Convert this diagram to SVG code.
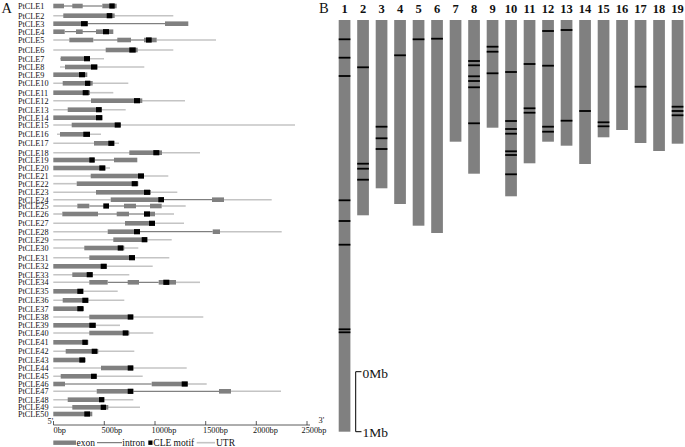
<svg xmlns="http://www.w3.org/2000/svg" width="685" height="447" viewBox="0 0 685 447">
<style>
text{font-family:"Liberation Serif","Times New Roman",serif;fill:#111}
.pl{font-size:14.5px}
.gl{font-size:8.2px}
.tk{font-size:8.3px}
.lg{font-size:9.5px}
.cn{font-size:12.5px;font-weight:bold;text-anchor:middle}
.sb{font-size:13.5px}
.u{stroke:#c4c4c4;stroke-width:1.6;fill:none}
.i{stroke:#505050;stroke-width:0.9;fill:none}
.e{fill:#808080}
.m{fill:#000}
.ch{fill:#808080}
.mk{fill:#000}
</style>
<text class="pl" x="1.5" y="13">A</text>
<text class="pl" x="319" y="13">B</text>
<g id="genes">
<g id="PtCLE1"><text class="gl" x="18" y="9">PtCLE1</text><line class="i" x1="64" y1="6" x2="102.3" y2="6"/><rect class="e" x="53.3" y="3.7" width="10.7" height="4.6"/><rect class="e" x="72.3" y="3.7" width="10.4" height="4.6"/><rect class="e" x="102.3" y="3.7" width="14.4" height="4.6"/><rect class="m" x="109.3" y="3.4" width="5.4" height="5.2"/></g>
<g id="PtCLE2"><text class="gl" x="18" y="18.7">PtCLE2</text><line class="u" x1="53.3" y1="15.7" x2="173.3" y2="15.7"/><rect class="e" x="63.3" y="13.4" width="51.4" height="4.6"/><rect class="m" x="106.7" y="13.1" width="5.6" height="5.2"/></g>
<g id="PtCLE3"><text class="gl" x="18" y="26.7">PtCLE3</text><line class="i" x1="87.7" y1="23.7" x2="165" y2="23.7"/><rect class="e" x="53.3" y="21.4" width="34.4" height="4.6"/><rect class="e" x="165" y="21.4" width="23.3" height="4.6"/><rect class="m" x="81" y="21.1" width="6.7" height="5.2"/></g>
<g id="PtCLE4"><text class="gl" x="18" y="34.7">PtCLE4</text><line class="i" x1="64.7" y1="31.7" x2="96" y2="31.7"/><rect class="e" x="53.3" y="29.4" width="11.4" height="4.6"/><rect class="e" x="76" y="29.4" width="6.7" height="4.6"/><rect class="e" x="96" y="29.4" width="17.3" height="4.6"/><rect class="m" x="103" y="29.1" width="6" height="5.2"/></g>
<g id="PtCLE5"><text class="gl" x="18" y="43">PtCLE5</text><line class="u" x1="53.3" y1="40" x2="69.3" y2="40"/><line class="u" x1="156.7" y1="40" x2="216" y2="40"/><line class="i" x1="93.3" y1="40" x2="144" y2="40"/><rect class="e" x="69.3" y="37.7" width="24" height="4.6"/><rect class="e" x="117.3" y="37.7" width="13.7" height="4.6"/><rect class="e" x="144" y="37.7" width="12.7" height="4.6"/><rect class="m" x="146" y="37.4" width="5.7" height="5.2"/></g>
<g id="PtCLE6"><text class="gl" x="18" y="53">PtCLE6</text><line class="u" x1="53.3" y1="50" x2="173.3" y2="50"/><rect class="e" x="105.7" y="47.7" width="32" height="4.6"/><rect class="m" x="129.3" y="47.4" width="6.4" height="5.2"/></g>
<g id="PtCLE7"><text class="gl" x="18" y="61.7">PtCLE7</text><line class="u" x1="60" y1="58.7" x2="104" y2="58.7"/><rect class="e" x="60.7" y="56.4" width="29.3" height="4.6"/><rect class="m" x="84" y="56.1" width="6" height="5.2"/></g>
<g id="PtCLE8"><text class="gl" x="18" y="70">PtCLE8</text><line class="u" x1="60" y1="67" x2="144.3" y2="67"/><rect class="e" x="65" y="64.7" width="32.3" height="4.6"/><rect class="m" x="91" y="64.4" width="6.3" height="5.2"/></g>
<g id="PtCLE9"><text class="gl" x="18" y="77.7">PtCLE9</text><rect class="e" x="53.3" y="72.4" width="34" height="4.6"/><rect class="m" x="79" y="72.1" width="6" height="5.2"/></g>
<g id="PtCLE10"><text class="gl" x="18" y="86.3">PtCLE10</text><line class="u" x1="53.3" y1="83.3" x2="128.3" y2="83.3"/><rect class="e" x="62.7" y="81" width="30" height="4.6"/><rect class="m" x="85" y="80.7" width="5.3" height="5.2"/></g>
<g id="PtCLE11"><text class="gl" x="18" y="95.7">PtCLE11</text><line class="u" x1="90" y1="92.7" x2="113.3" y2="92.7"/><rect class="e" x="53.3" y="90.4" width="36.7" height="4.6"/><rect class="m" x="82.7" y="90.1" width="6" height="5.2"/></g>
<g id="PtCLE12"><text class="gl" x="18" y="103.7">PtCLE12</text><line class="u" x1="53.3" y1="100.7" x2="185" y2="100.7"/><rect class="e" x="91" y="98.4" width="51.3" height="4.6"/><rect class="m" x="134" y="98.1" width="6" height="5.2"/></g>
<g id="PtCLE13"><text class="gl" x="18" y="112.7">PtCLE13</text><line class="u" x1="53.3" y1="109.7" x2="125.7" y2="109.7"/><rect class="e" x="67.7" y="107.4" width="34" height="4.6"/><rect class="m" x="96" y="107.1" width="5.7" height="5.2"/></g>
<g id="PtCLE14"><text class="gl" x="18" y="120.7">PtCLE14</text><rect class="e" x="53.3" y="115.4" width="49" height="4.6"/><rect class="m" x="96" y="115.1" width="6.3" height="5.2"/></g>
<g id="PtCLE15"><text class="gl" x="18" y="128">PtCLE15</text><line class="u" x1="53.3" y1="125" x2="295" y2="125"/><rect class="e" x="71.7" y="122.7" width="49" height="4.6"/><rect class="m" x="114.7" y="122.4" width="6" height="5.2"/></g>
<g id="PtCLE16"><text class="gl" x="18" y="137.3">PtCLE16</text><line class="u" x1="57" y1="134.3" x2="101" y2="134.3"/><rect class="e" x="60" y="132" width="30" height="4.6"/><rect class="m" x="83.3" y="131.7" width="6.7" height="5.2"/></g>
<g id="PtCLE17"><text class="gl" x="18" y="146.3">PtCLE17</text><line class="u" x1="53.3" y1="143.3" x2="119" y2="143.3"/><rect class="e" x="94" y="141" width="20.3" height="4.6"/><rect class="m" x="108.3" y="140.7" width="6" height="5.2"/></g>
<g id="PtCLE18"><text class="gl" x="18" y="155.7">PtCLE18</text><line class="u" x1="53.3" y1="152.7" x2="200" y2="152.7"/><rect class="e" x="129.3" y="150.4" width="32.7" height="4.6"/><rect class="m" x="153.3" y="150.1" width="6" height="5.2"/></g>
<g id="PtCLE19"><text class="gl" x="18" y="163">PtCLE19</text><line class="i" x1="94.7" y1="160" x2="114" y2="160"/><rect class="e" x="53.3" y="157.7" width="41.4" height="4.6"/><rect class="e" x="114" y="157.7" width="23.3" height="4.6"/><rect class="m" x="89.3" y="157.4" width="5.4" height="5.2"/></g>
<g id="PtCLE20"><text class="gl" x="18" y="171">PtCLE20</text><line class="u" x1="105.3" y1="168" x2="110" y2="168"/><rect class="e" x="53.3" y="165.7" width="52" height="4.6"/><rect class="m" x="99.3" y="165.4" width="6" height="5.2"/></g>
<g id="PtCLE21"><text class="gl" x="18" y="179">PtCLE21</text><line class="u" x1="53.3" y1="176" x2="168.3" y2="176"/><rect class="e" x="90.7" y="173.7" width="53.3" height="4.6"/><rect class="m" x="138" y="173.4" width="6" height="5.2"/></g>
<g id="PtCLE22"><text class="gl" x="18" y="186.7">PtCLE22</text><line class="u" x1="53.3" y1="183.7" x2="76.7" y2="183.7"/><rect class="e" x="76.7" y="181.4" width="61.6" height="4.6"/><rect class="m" x="131.7" y="181.1" width="6" height="5.2"/></g>
<g id="PtCLE23"><text class="gl" x="18" y="195.3">PtCLE23</text><line class="u" x1="53.3" y1="192.3" x2="177.3" y2="192.3"/><rect class="e" x="96" y="190" width="55" height="4.6"/><rect class="m" x="144" y="189.7" width="6" height="5.2"/></g>
<g id="PtCLE24"><text class="gl" x="18" y="202.7">PtCLE24</text><line class="u" x1="53.3" y1="199.7" x2="110.7" y2="199.7"/><line class="u" x1="224" y1="199.7" x2="271.7" y2="199.7"/><line class="i" x1="164" y1="199.7" x2="212" y2="199.7"/><rect class="e" x="110.7" y="197.4" width="53.3" height="4.6"/><rect class="e" x="212" y="197.4" width="12" height="4.6"/><rect class="m" x="158.3" y="197.1" width="5.7" height="5.2"/></g>
<g id="PtCLE25"><text class="gl" x="18" y="209">PtCLE25</text><line class="u" x1="53.3" y1="206" x2="77.3" y2="206"/><line class="u" x1="161.7" y1="206" x2="185.7" y2="206"/><line class="i" x1="89.3" y1="206" x2="150" y2="206"/><rect class="e" x="77.3" y="203.7" width="12" height="4.6"/><rect class="e" x="124" y="203.7" width="12" height="4.6"/><rect class="e" x="150" y="203.7" width="11.7" height="4.6"/><rect class="m" x="103.3" y="203.4" width="5.7" height="5.2"/></g>
<g id="PtCLE26"><text class="gl" x="18" y="217">PtCLE26</text><line class="u" x1="53.3" y1="214" x2="62.3" y2="214"/><line class="u" x1="155" y1="214" x2="174" y2="214"/><line class="i" x1="98" y1="214" x2="144" y2="214"/><rect class="e" x="62.3" y="211.7" width="35.7" height="4.6"/><rect class="e" x="116.7" y="211.7" width="12.3" height="4.6"/><rect class="e" x="144" y="211.7" width="11" height="4.6"/><rect class="m" x="144" y="211.4" width="6" height="5.2"/></g>
<g id="PtCLE27"><text class="gl" x="18" y="226.3">PtCLE27</text><line class="u" x1="53.3" y1="223.3" x2="184" y2="223.3"/><rect class="e" x="125" y="221" width="30" height="4.6"/><rect class="m" x="149" y="220.7" width="6" height="5.2"/></g>
<g id="PtCLE28"><text class="gl" x="18" y="234.7">PtCLE28</text><line class="u" x1="53.3" y1="231.7" x2="107.7" y2="231.7"/><line class="u" x1="220" y1="231.7" x2="281.7" y2="231.7"/><line class="i" x1="140" y1="231.7" x2="212.7" y2="231.7"/><rect class="e" x="107.7" y="229.4" width="32.3" height="4.6"/><rect class="e" x="212.7" y="229.4" width="7.3" height="4.6"/><rect class="m" x="134" y="229.1" width="6" height="5.2"/></g>
<g id="PtCLE29"><text class="gl" x="18" y="242.7">PtCLE29</text><line class="u" x1="53.3" y1="239.7" x2="171.7" y2="239.7"/><rect class="e" x="113.3" y="237.4" width="34" height="4.6"/><rect class="m" x="141.7" y="237.1" width="5.6" height="5.2"/></g>
<g id="PtCLE30"><text class="gl" x="18" y="251">PtCLE30</text><line class="u" x1="53.3" y1="248" x2="138.3" y2="248"/><rect class="e" x="84.3" y="245.7" width="40" height="4.6"/><rect class="m" x="117.7" y="245.4" width="5.6" height="5.2"/></g>
<g id="PtCLE31"><text class="gl" x="18" y="260.7">PtCLE31</text><line class="u" x1="53.3" y1="257.7" x2="169.3" y2="257.7"/><rect class="e" x="89.3" y="255.4" width="45.7" height="4.6"/><rect class="m" x="129" y="255.1" width="6" height="5.2"/></g>
<g id="PtCLE32"><text class="gl" x="18" y="269.3">PtCLE32</text><line class="u" x1="106.7" y1="266.3" x2="152.7" y2="266.3"/><rect class="e" x="53.3" y="264" width="53.4" height="4.6"/><rect class="m" x="100.7" y="263.7" width="6" height="5.2"/></g>
<g id="PtCLE33"><text class="gl" x="18" y="277.7">PtCLE33</text><line class="u" x1="53.3" y1="274.7" x2="129.3" y2="274.7"/><rect class="e" x="72.3" y="272.4" width="20.4" height="4.6"/><rect class="m" x="86.7" y="272.1" width="6" height="5.2"/></g>
<g id="PtCLE34"><text class="gl" x="18" y="285.3">PtCLE34</text><line class="u" x1="53.3" y1="282.3" x2="89.3" y2="282.3"/><line class="u" x1="176" y1="282.3" x2="200" y2="282.3"/><line class="i" x1="107.7" y1="282.3" x2="158.7" y2="282.3"/><rect class="e" x="89.3" y="280" width="18.4" height="4.6"/><rect class="e" x="127.7" y="280" width="11.3" height="4.6"/><rect class="e" x="158.7" y="280" width="17.3" height="4.6"/><rect class="m" x="163.3" y="279.7" width="6" height="5.2"/></g>
<g id="PtCLE35"><text class="gl" x="18" y="294.3">PtCLE35</text><line class="u" x1="83.3" y1="291.3" x2="117.7" y2="291.3"/><rect class="e" x="53.3" y="289" width="30" height="4.6"/><rect class="m" x="77.3" y="288.7" width="6" height="5.2"/></g>
<g id="PtCLE36"><text class="gl" x="18" y="303.3">PtCLE36</text><line class="u" x1="53.3" y1="300.3" x2="124.3" y2="300.3"/><rect class="e" x="62.7" y="298" width="25.6" height="4.6"/><rect class="m" x="82.3" y="297.7" width="6" height="5.2"/></g>
<g id="PtCLE37"><text class="gl" x="18" y="311.7">PtCLE37</text><rect class="e" x="53.3" y="306.4" width="30.7" height="4.6"/><rect class="m" x="77.3" y="306.1" width="6" height="5.2"/></g>
<g id="PtCLE38"><text class="gl" x="18" y="320">PtCLE38</text><line class="u" x1="53.3" y1="317" x2="203.3" y2="317"/><rect class="e" x="89.3" y="314.7" width="44" height="4.6"/><rect class="m" x="127.7" y="314.4" width="5.6" height="5.2"/></g>
<g id="PtCLE39"><text class="gl" x="18" y="328.3">PtCLE39</text><line class="u" x1="95.7" y1="325.3" x2="120" y2="325.3"/><rect class="e" x="53.3" y="323" width="42.4" height="4.6"/><rect class="m" x="89.3" y="322.7" width="6.4" height="5.2"/></g>
<g id="PtCLE40"><text class="gl" x="18" y="336">PtCLE40</text><line class="u" x1="53.3" y1="333" x2="153.3" y2="333"/><rect class="e" x="89.3" y="330.7" width="40" height="4.6"/><rect class="m" x="122.7" y="330.4" width="5.6" height="5.2"/></g>
<g id="PtCLE41"><text class="gl" x="18" y="345.3">PtCLE41</text><rect class="e" x="53.3" y="340" width="35" height="4.6"/><rect class="m" x="82.3" y="339.7" width="5.4" height="5.2"/></g>
<g id="PtCLE42"><text class="gl" x="18" y="354.3">PtCLE42</text><line class="u" x1="53.3" y1="351.3" x2="134.3" y2="351.3"/><rect class="e" x="65.7" y="349" width="32.6" height="4.6"/><rect class="m" x="91.7" y="348.7" width="5.6" height="5.2"/></g>
<g id="PtCLE43"><text class="gl" x="18" y="363">PtCLE43</text><rect class="e" x="53.3" y="357.7" width="32.4" height="4.6"/><rect class="m" x="79.3" y="357.4" width="5.7" height="5.2"/></g>
<g id="PtCLE44"><text class="gl" x="18" y="371">PtCLE44</text><line class="u" x1="53.3" y1="368" x2="186.7" y2="368"/><rect class="e" x="101" y="365.7" width="32.3" height="4.6"/><rect class="m" x="127.7" y="365.4" width="5.6" height="5.2"/></g>
<g id="PtCLE45"><text class="gl" x="18" y="379.3">PtCLE45</text><line class="u" x1="53.3" y1="376.3" x2="142.7" y2="376.3"/><rect class="e" x="60.7" y="374" width="36" height="4.6"/><rect class="m" x="91" y="373.7" width="5.7" height="5.2"/></g>
<g id="PtCLE46"><text class="gl" x="18" y="387">PtCLE46</text><line class="u" x1="187.7" y1="384" x2="206.7" y2="384"/><line class="i" x1="65" y1="384" x2="151.7" y2="384"/><rect class="e" x="53.3" y="381.7" width="11.7" height="4.6"/><rect class="e" x="151.7" y="381.7" width="36" height="4.6"/><rect class="m" x="181.7" y="381.4" width="6" height="5.2"/></g>
<g id="PtCLE47"><text class="gl" x="18" y="394.3">PtCLE47</text><line class="u" x1="53.3" y1="391.3" x2="96.7" y2="391.3"/><line class="u" x1="231" y1="391.3" x2="281" y2="391.3"/><line class="i" x1="133.3" y1="391.3" x2="219" y2="391.3"/><rect class="e" x="96.7" y="389" width="36.6" height="4.6"/><rect class="e" x="219" y="389" width="12" height="4.6"/><rect class="m" x="127.7" y="388.7" width="5.6" height="5.2"/></g>
<g id="PtCLE48"><text class="gl" x="18" y="402.7">PtCLE48</text><line class="u" x1="53.3" y1="399.7" x2="133.3" y2="399.7"/><rect class="e" x="67.7" y="397.4" width="36.6" height="4.6"/><rect class="m" x="99" y="397.1" width="5.3" height="5.2"/></g>
<g id="PtCLE49"><text class="gl" x="18" y="410.3">PtCLE49</text><line class="u" x1="53.3" y1="407.3" x2="140" y2="407.3"/><rect class="e" x="72.3" y="405" width="36" height="4.6"/><rect class="m" x="100.7" y="404.7" width="5.3" height="5.2"/></g>
<g id="PtCLE50"><text class="gl" x="18" y="417">PtCLE50</text><rect class="e" x="53.3" y="411.7" width="39" height="4.6"/><rect class="m" x="84.3" y="411.4" width="5.7" height="5.2"/></g>
</g>
<g id="axis">
<path d="M53.5 425H310M53.5 421V425M104.3 421V425M155 421V425M205.7 421V425M256.3 421V425M307 421V425" stroke="#333" stroke-width="0.8" fill="none"/>
<text class="tk" x="47.5" y="424">5'</text>
<text class="tk" x="318.5" y="423">3'</text>
<text class="tk" x="53.5" y="433">0bp</text>
<text class="tk" x="101.5" y="433">500bp</text>
<text class="tk" x="151.5" y="433">1000bp</text>
<text class="tk" x="203" y="433">1500bp</text>
<text class="tk" x="253" y="433">2000bp</text>
<text class="tk" x="301.5" y="433">2500bp</text>
</g>
<g id="legend">
<rect class="e" x="53.3" y="440.5" width="22.7" height="4.4"/>
<text class="lg" x="76.5" y="445.5">exon</text>
<line class="i" x1="97" y1="442.7" x2="122" y2="442.7"/>
<text class="lg" x="122.3" y="445.5">intron</text>
<rect class="m" x="148.3" y="440.5" width="4.2" height="4.4"/>
<text class="lg" x="153.3" y="445.5">CLE motif</text>
<line class="u" x1="196.7" y1="442.7" x2="215" y2="442.7"/>
<text class="lg" x="216" y="445.5">UTR</text>
</g>
<g id="chr1"><text class="cn" x="344.5" y="12.7">1</text><rect class="ch" x="338.7" y="20" width="11.7" height="411.7"/><rect class="mk" x="338.7" y="38.4" width="11.7" height="1.8"/><rect class="mk" x="338.7" y="56.8" width="11.7" height="1.8"/><rect class="mk" x="338.7" y="75.1" width="11.7" height="1.8"/><rect class="mk" x="338.7" y="199.4" width="11.7" height="1.8"/><rect class="mk" x="338.7" y="220.1" width="11.7" height="1.8"/><rect class="mk" x="338.7" y="243.8" width="11.7" height="1.8"/><rect class="mk" x="338.7" y="328.4" width="11.7" height="1.8"/><rect class="mk" x="338.7" y="331.4" width="11.7" height="1.8"/></g>
<g id="chr2"><text class="cn" x="363" y="12.7">2</text><rect class="ch" x="357.2" y="20" width="11.7" height="195.3"/><rect class="mk" x="357.2" y="66.4" width="11.7" height="1.8"/><rect class="mk" x="357.2" y="162.8" width="11.7" height="1.8"/><rect class="mk" x="357.2" y="167.8" width="11.7" height="1.8"/><rect class="mk" x="357.2" y="178.8" width="11.7" height="1.8"/></g>
<g id="chr3"><text class="cn" x="381.5" y="12.7">3</text><rect class="ch" x="375.7" y="20" width="11.7" height="168.3"/><rect class="mk" x="375.7" y="125.8" width="11.7" height="1.8"/><rect class="mk" x="375.7" y="137.4" width="11.7" height="1.8"/><rect class="mk" x="375.7" y="148.1" width="11.7" height="1.8"/></g>
<g id="chr4"><text class="cn" x="400" y="12.7">4</text><rect class="ch" x="394.2" y="20" width="11.7" height="184"/><rect class="mk" x="394.2" y="54.4" width="11.7" height="1.8"/></g>
<g id="chr5"><text class="cn" x="418.5" y="12.7">5</text><rect class="ch" x="412.7" y="20" width="11.7" height="205.7"/><rect class="mk" x="412.7" y="38.4" width="11.7" height="1.8"/></g>
<g id="chr6"><text class="cn" x="437" y="12.7">6</text><rect class="ch" x="431.2" y="20" width="11.7" height="213"/><rect class="mk" x="431.2" y="37.8" width="11.7" height="1.8"/></g>
<g id="chr7"><text class="cn" x="455.5" y="12.7">7</text><rect class="ch" x="449.7" y="20" width="11.7" height="121.7"/></g>
<g id="chr8"><text class="cn" x="474" y="12.7">8</text><rect class="ch" x="468.2" y="20" width="11.7" height="153.7"/><rect class="mk" x="468.2" y="60.1" width="11.7" height="1.8"/><rect class="mk" x="468.2" y="64.4" width="11.7" height="1.8"/><rect class="mk" x="468.2" y="75.4" width="11.7" height="1.8"/><rect class="mk" x="468.2" y="80.1" width="11.7" height="1.8"/><rect class="mk" x="468.2" y="86.4" width="11.7" height="1.8"/><rect class="mk" x="468.2" y="122.4" width="11.7" height="1.8"/></g>
<g id="chr9"><text class="cn" x="492.5" y="12.7">9</text><rect class="ch" x="486.7" y="20" width="11.7" height="107.7"/><rect class="mk" x="486.7" y="45.8" width="11.7" height="1.8"/><rect class="mk" x="486.7" y="50.8" width="11.7" height="1.8"/><rect class="mk" x="486.7" y="72.4" width="11.7" height="1.8"/></g>
<g id="chr10"><text class="cn" x="511" y="12.7">10</text><rect class="ch" x="505.2" y="20" width="11.7" height="176.3"/><rect class="mk" x="505.2" y="71.1" width="11.7" height="1.8"/><rect class="mk" x="505.2" y="120.1" width="11.7" height="1.8"/><rect class="mk" x="505.2" y="128.1" width="11.7" height="1.8"/><rect class="mk" x="505.2" y="132.8" width="11.7" height="1.8"/><rect class="mk" x="505.2" y="150.4" width="11.7" height="1.8"/><rect class="mk" x="505.2" y="154.1" width="11.7" height="1.8"/><rect class="mk" x="505.2" y="173.4" width="11.7" height="1.8"/></g>
<g id="chr11"><text class="cn" x="529.5" y="12.7">11</text><rect class="ch" x="523.7" y="20" width="11.7" height="143.3"/><rect class="mk" x="523.7" y="63.1" width="11.7" height="1.8"/><rect class="mk" x="523.7" y="107.4" width="11.7" height="1.8"/><rect class="mk" x="523.7" y="111.8" width="11.7" height="1.8"/></g>
<g id="chr12"><text class="cn" x="548" y="12.7">12</text><rect class="ch" x="542.2" y="20" width="11.7" height="121.7"/><rect class="mk" x="542.2" y="30.1" width="11.7" height="1.8"/><rect class="mk" x="542.2" y="64.8" width="11.7" height="1.8"/><rect class="mk" x="542.2" y="125.8" width="11.7" height="1.8"/><rect class="mk" x="542.2" y="130.8" width="11.7" height="1.8"/></g>
<g id="chr13"><text class="cn" x="566.5" y="12.7">13</text><rect class="ch" x="560.7" y="20" width="11.7" height="125.7"/><rect class="mk" x="560.7" y="29.1" width="11.7" height="1.8"/><rect class="mk" x="560.7" y="119.8" width="11.7" height="1.8"/></g>
<g id="chr14"><text class="cn" x="585" y="12.7">14</text><rect class="ch" x="579.2" y="20" width="11.7" height="144"/><rect class="mk" x="579.2" y="110.1" width="11.7" height="1.8"/></g>
<g id="chr15"><text class="cn" x="603.5" y="12.7">15</text><rect class="ch" x="597.7" y="20" width="11.7" height="117.3"/><rect class="mk" x="597.7" y="121.4" width="11.7" height="1.8"/><rect class="mk" x="597.7" y="125.4" width="11.7" height="1.8"/></g>
<g id="chr16"><text class="cn" x="622" y="12.7">16</text><rect class="ch" x="616.2" y="20" width="11.7" height="110"/></g>
<g id="chr17"><text class="cn" x="640.5" y="12.7">17</text><rect class="ch" x="634.7" y="20" width="11.7" height="123"/><rect class="mk" x="634.7" y="85.8" width="11.7" height="1.8"/></g>
<g id="chr18"><text class="cn" x="659" y="12.7">18</text><rect class="ch" x="653.2" y="20" width="11.7" height="131"/></g>
<g id="chr19"><text class="cn" x="677.5" y="12.7">19</text><rect class="ch" x="671.7" y="20" width="11.7" height="123.7"/><rect class="mk" x="671.7" y="105.8" width="11.7" height="1.8"/><rect class="mk" x="671.7" y="110.1" width="11.7" height="1.8"/><rect class="mk" x="671.7" y="114.4" width="11.7" height="1.8"/></g>
<g id="scalebar">
<path d="M361.5 371.7H355.7V431.7H361.5" stroke="#000" stroke-width="1" fill="none"/>
<text class="sb" x="362.5" y="377.8">0Mb</text>
<text class="sb" x="362.5" y="436.8">1Mb</text>
</g>
</svg>
